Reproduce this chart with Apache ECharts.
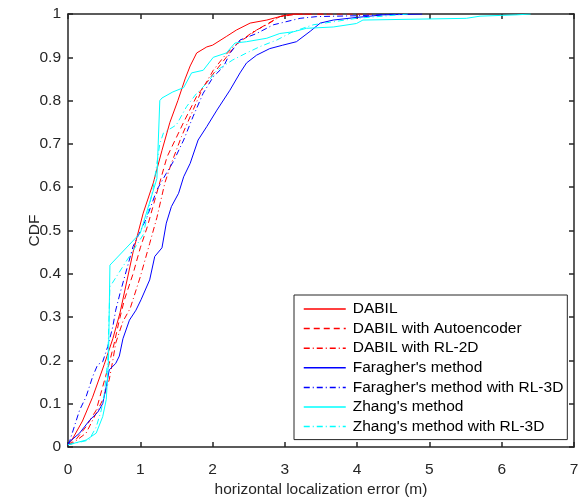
<!DOCTYPE html>
<html>
<head>
<meta charset="utf-8">
<script src="https://cdn.jsdelivr.net/npm/echarts@6/dist/echarts.min.js"></script>
<style>
  html, body { margin: 0; padding: 0; background: #fff; }
  #main { width: 586px; height: 500px; }
</style>
</head>
<body>
<div id="main"></div>
<script>
// CDF 曲线数据 [误差(m), CDF]
var dabil = [[0,0.005],[0.05,0.015],[0.2,0.06],[0.34,0.115],[0.5,0.19],[0.62,0.25],[0.72,0.31],[0.9,0.45],[1.04,0.54],[1.18,0.61],[1.3,0.685],[1.41,0.75],[1.52,0.8],[1.62,0.85],[1.69,0.88],[1.78,0.91],[1.92,0.924],[2.0,0.928],[2.19,0.948],[2.33,0.963],[2.52,0.979],[2.75,0.986],[2.93,0.994],[3.1,1],[3.3,1]];
var dabilAuto = [[0,0.005],[0.1,0.015],[0.25,0.047],[0.39,0.085],[0.48,0.139],[0.57,0.193],[0.64,0.24],[0.71,0.293],[0.78,0.34],[0.9,0.4],[1.0,0.46],[1.1,0.51],[1.2,0.57],[1.37,0.67],[1.6,0.75],[1.78,0.81],[2.0,0.86],[2.19,0.9],[2.33,0.93],[2.61,0.963],[2.93,0.994],[3.2,1],[4.2,1]];
var dabilRL2D = [[0,0.005],[0.06,0.008],[0.25,0.032],[0.39,0.078],[0.48,0.109],[0.57,0.155],[0.62,0.2],[0.66,0.24],[0.76,0.29],[0.86,0.32],[1.0,0.393],[1.13,0.47],[1.23,0.53],[1.34,0.61],[1.43,0.655],[1.57,0.717],[1.73,0.778],[1.85,0.824],[2.01,0.87],[2.15,0.9],[2.29,0.925],[2.56,0.959],[2.75,0.975],[2.93,0.994],[3.1,1],[3.6,1]];
var faragher = [[0,0.005],[0.02,0.012],[0.16,0.032],[0.3,0.062],[0.41,0.08],[0.48,0.1],[0.53,0.14],[0.57,0.178],[0.66,0.193],[0.71,0.21],[0.76,0.25],[0.85,0.293],[0.94,0.316],[1.01,0.34],[1.13,0.386],[1.2,0.44],[1.3,0.46],[1.36,0.517],[1.43,0.555],[1.53,0.586],[1.6,0.624],[1.69,0.655],[1.8,0.709],[1.92,0.74],[2.06,0.778],[2.24,0.824],[2.38,0.864],[2.47,0.887],[2.61,0.905],[2.79,0.92],[2.97,0.928],[3.16,0.936],[3.35,0.96],[3.49,0.979],[3.67,0.986],[3.99,0.992],[4.36,0.998],[4.9,1]];
var faragherRL3D = [[0,0.005],[0.02,0.012],[0.16,0.085],[0.25,0.116],[0.34,0.162],[0.41,0.19],[0.48,0.197],[0.55,0.232],[0.62,0.278],[0.66,0.316],[0.72,0.355],[0.9,0.463],[1.09,0.53],[1.23,0.594],[1.36,0.632],[1.46,0.66],[1.6,0.709],[1.73,0.763],[1.87,0.817],[2.01,0.855],[2.15,0.878],[2.24,0.909],[2.38,0.94],[2.61,0.955],[2.84,0.975],[3.21,0.99],[3.44,0.994],[4.0,0.996],[4.6,1]];
var zhang = [[0,0.005],[0.25,0.016],[0.39,0.032],[0.48,0.07],[0.53,0.11],[0.56,0.2],[0.58,0.42],[1.0,0.494],[1.23,0.62],[1.27,0.8],[1.3,0.806],[1.45,0.82],[1.6,0.83],[1.71,0.864],[1.87,0.87],[2.01,0.9],[2.19,0.91],[2.31,0.933],[2.47,0.936],[2.75,0.944],[2.93,0.955],[3.12,0.959],[3.3,0.967],[3.67,0.97],[3.99,0.978],[4.08,0.986],[5.51,0.99],[5.7,0.995],[6.2,0.998],[6.4,1]];
var zhangRL3D = [[0,0.005],[0.29,0.016],[0.39,0.046],[0.46,0.085],[0.5,0.12],[0.55,0.2],[0.58,0.37],[1.04,0.49],[1.18,0.6],[1.27,0.7],[1.32,0.725],[1.5,0.744],[1.64,0.786],[1.78,0.817],[1.92,0.84],[2.06,0.87],[2.28,0.894],[2.47,0.91],[2.66,0.925],[2.89,0.94],[3.11,0.959],[3.39,0.975],[3.99,0.99],[4.36,0.995],[4.7,1]];

var names = ['DABIL', 'DABIL with Autoencoder', 'DABIL with RL-2D', "Faragher's method",
    "Faragher's method with RL-3D", "Zhang's method", "Zhang's method with RL-3D"];
var colors = ['#ff0000', '#ff0000', '#ff0000', '#0000ff', '#0000ff', '#00ffff', '#00ffff'];
var dashes = ['solid', [6, 4], [6, 3, 1, 3], 'solid', [6, 3, 1, 3], 'solid', [6, 3, 1, 3]];
var curves = [dabil, dabilAuto, dabilRL2D, faragher, faragherRL3D, zhang, zhangRL3D];
var xTicks = [0, 7, 1];
var yTicks = [0, 1, 0.1];

var axisColor = '#262626';
var font = 'Liberation Sans, Arial, Helvetica, sans-serif';
var fs = 15.5;

function makeX(show, pos) {
    return {
        type: 'value', position: pos, min: xTicks[0], max: xTicks[1], interval: xTicks[2],
        name: show ? 'horizontal localization error (m)' : '',
        nameLocation: 'middle', nameGap: 35, nameMoveOverlap: false,
        nameTextStyle: { color: axisColor, fontSize: fs, fontFamily: font },
        axisLine: { show: true, onZero: false, lineStyle: { color: axisColor, width: 1.5 } },
        axisTick: { show: true, inside: true, length: 5, lineStyle: { color: axisColor, width: 1.5 } },
        axisLabel: { show: show, margin: 15, color: axisColor, fontSize: fs, fontFamily: font },
        splitLine: { show: false }
    };
}
function makeY(show, pos) {
    return {
        type: 'value', position: pos, min: yTicks[0], max: yTicks[1], interval: yTicks[2],
        name: show ? 'CDF' : '',
        nameLocation: 'middle', nameGap: 25, nameRotate: 90, nameMoveOverlap: false,
        nameTextStyle: { color: axisColor, fontSize: fs, fontFamily: font },
        axisLine: { show: true, onZero: false, lineStyle: { color: axisColor, width: 1.5 } },
        axisTick: { show: true, inside: true, length: 5, lineStyle: { color: axisColor, width: 1.5 } },
        axisLabel: { show: show, margin: 7, color: axisColor, fontSize: fs, fontFamily: font },
        splitLine: { show: false }
    };
}

var series = [];
for (var i = 0; i < curves.length; i++) {
    series.push({
        name: names[i],
        type: 'line',
        data: curves[i],
        showSymbol: false,
        symbol: 'none',
        animation: false,
        lineStyle: { color: colors[i], width: 1, type: dashes[i] },
        itemStyle: { color: colors[i] }
    });
}

var chart = echarts.init(document.getElementById('main'));
chart.setOption({
    backgroundColor: '#fff',
    animation: false,
    grid: { left: 68, top: 14, right: 12, bottom: 53, containLabel: false, outerBoundsMode: 'none' },
    xAxis: [makeX(true, 'bottom'), makeX(false, 'top')],
    yAxis: [makeY(true, 'left'), makeY(false, 'right')],
    legend: {
        orient: 'vertical',
        left: 294, top: 295,
        padding: [6, 4, 5, 9],
        itemWidth: 42, itemHeight: 14, itemGap: 3.6,
        backgroundColor: '#fff',
        borderColor: axisColor, borderWidth: 1,
        itemStyle: { opacity: 0 },
        lineStyle: { width: 1.5 },
        textStyle: { color: '#000', fontSize: fs, fontFamily: font, padding: [0, 0, 0, 2] },
        data: names
    },
    series: series
});
</script>
</body>
</html>
